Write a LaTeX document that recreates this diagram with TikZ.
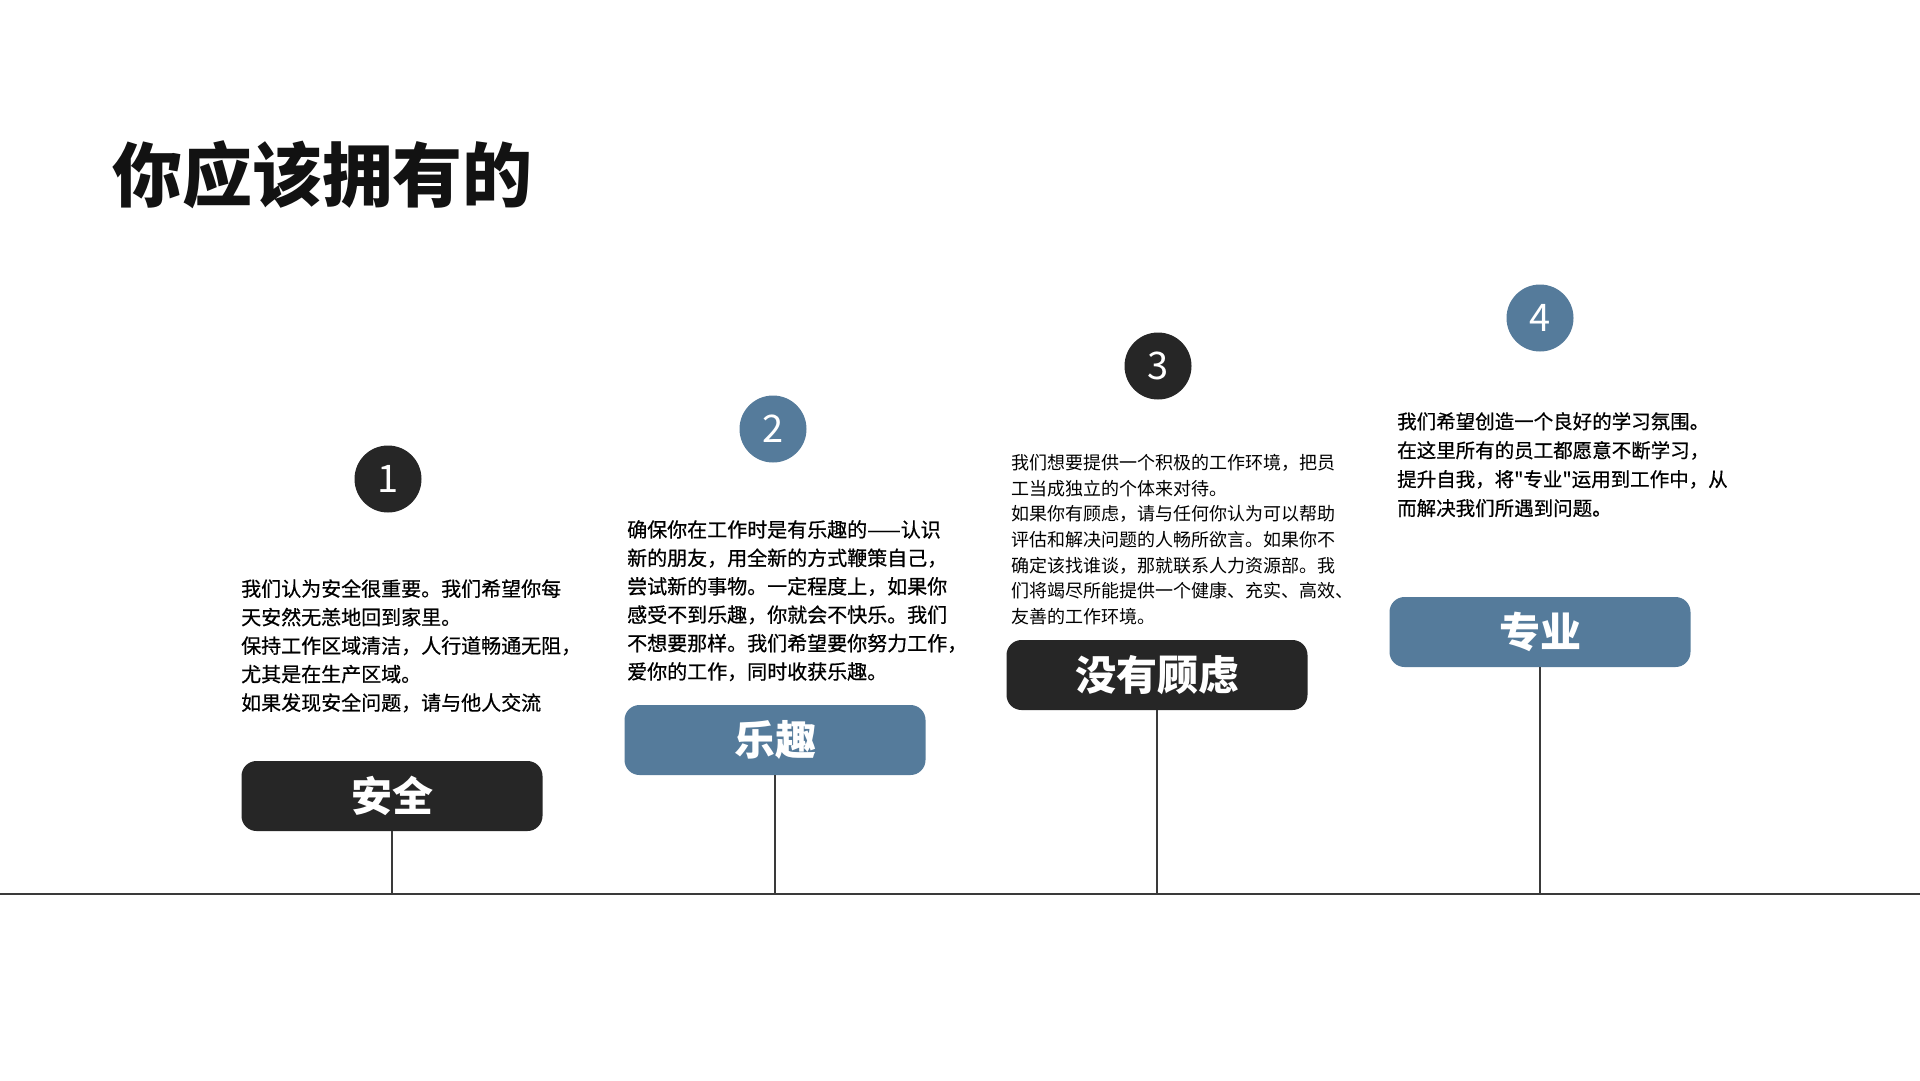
\documentclass[tikz,border=0pt]{standalone}
\usepackage{fontspec}
\setmainfont{Noto Sans CJK SC}
\newfontfamily\bodyfont[FakeBold=0.6]{Noto Sans CJK SC}
\usetikzlibrary{positioning}

\definecolor{inkdark}{HTML}{262626}
\definecolor{steelblue}{HTML}{557B9B}
\definecolor{axisgray}{HTML}{3A3A3A}

\tikzset{
  badge/.style={circle,minimum size=67pt,inner sep=0pt,text=white,
    font=\fontsize{38}{40}\selectfont},
  tagbox/.style={rectangle,rounded corners=15pt,minimum width=301pt,
    minimum height=70pt,inner sep=0pt,text=white,
    font=\fontsize{41}{44}\selectfont\bfseries},
  blurb/.style={anchor=north west,align=left,inner sep=0pt,text=black},
  stem/.style={axisgray,line width=1.6pt}
}

\begin{document}
\begin{tikzpicture}[x=1pt,y=-1pt]
\useasboundingbox[fill=white] (0,0) rectangle (1920,1080);

% Title
\node[anchor=west,inner sep=0pt,text=black!93,font=\fontsize{70}{74}\selectfont\bfseries]
  (title) at (112,175) {你应该拥有的};

% Time axis
\coordinate (axisL) at (0,894);
\coordinate (axisR) at (1920,894);
\draw[axisgray,line width=2pt] (axisL) -- (axisR);

% Step 1
\node[badge,fill=inkdark] (num1) at (388,479) {1};
\node[blurb,font=\bodyfont\fontsize{20}{28.5}\selectfont] (txt1) at (241,579)
  {我们认为安全很重要。我们希望你每\\
   天安然无恙地回到家里。\\
   保持工作区域清洁，人行道畅通无阻，\\
   尤其是在生产区域。\\
   如果发现安全问题，请与他人交流};
\node[tagbox,fill=inkdark] (tag1) at (392,796) {安全};

% Step 2
\node[badge,fill=steelblue] (num2) at (773,429) {2};
\node[blurb,font=\bodyfont\fontsize{20}{28.4}\selectfont] (txt2) at (627,520)
  {确保你在工作时是有乐趣的——认识\\
   新的朋友，用全新的方式鞭策自己，\\
   尝试新的事物。一定程度上，如果你\\
   感受不到乐趣，你就会不快乐。我们\\
   不想要那样。我们希望要你努力工作，\\
   爱你的工作，同时收获乐趣。};
\node[tagbox,fill=steelblue] (tag2) at (775,740) {乐趣};

% Step 3
\node[badge,fill=inkdark] (num3) at (1158,366) {3};
\node[blurb,font=\fontsize{18}{25.7}\selectfont] (txt3) at (1011,454)
  {我们想要提供一个积极的工作环境，把员\\
   工当成独立的个体来对待。\\
   如果你有顾虑，请与任何你认为可以帮助\\
   评估和解决问题的人畅所欲言。如果你不\\
   确定该找谁谈，那就联系人力资源部。我\\
   们将竭尽所能提供一个健康、充实、高效、\\
   友善的工作环境。};
\node[tagbox,fill=inkdark] (tag3) at (1157,675) {没有顾虑};

% Step 4
\node[badge,fill=steelblue] (num4) at (1540,318) {4};
\node[blurb,font=\bodyfont\fontsize{19.5}{28.9}\selectfont] (txt4) at (1397,412)
  {我们希望创造一个良好的学习氛围。\\
   在这里所有的员工都愿意不断学习，\\
   提升自我，将\symbol{"22}专业\symbol{"22}运用到工作中，从\\
   而解决我们所遇到问题。};
\node[tagbox,fill=steelblue] (tag4) at (1540,632) {专业};

% Stems down to the axis
\foreach \k in {1,2,3,4}{
  \coordinate (foot\k) at (tag\k.south |- axisL);
  \draw[stem] (tag\k.south) -- (foot\k);
}
\end{tikzpicture}
\end{document}
